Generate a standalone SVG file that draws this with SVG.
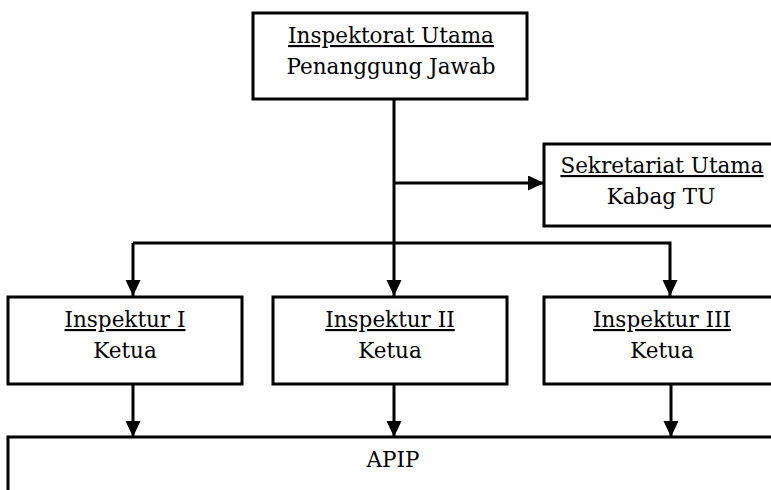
<svg xmlns="http://www.w3.org/2000/svg" width="771" height="490" viewBox="0 0 771 490">
<style>
.box{fill:#fff;stroke:#000;stroke-width:3}
.t{font-family:"DejaVu Serif","Liberation Serif",serif;font-size:21.5px;fill:#000;text-anchor:middle}
.u{text-decoration:underline}
.c{fill:none;stroke:#000;stroke-width:3}
</style>
<defs>
<marker id="ah" markerUnits="userSpaceOnUse" markerWidth="18" markerHeight="18" refX="16" refY="7.5" orient="auto">
<path d="M0,0 L16,7.5 L0,15 z" fill="#000"/>
</marker>
</defs>
<rect width="771" height="490" fill="#fff"/>
<g id="connectors">
<line class="c" x1="394" y1="99" x2="394" y2="296" marker-end="url(#ah)"/>
<line class="c" x1="394" y1="183" x2="544" y2="183" marker-end="url(#ah)"/>
<polyline class="c" points="133,243 670,243 670,296" marker-end="url(#ah)"/>
<line class="c" x1="133" y1="243" x2="133" y2="296" marker-end="url(#ah)"/>
<line class="c" x1="133" y1="384" x2="133" y2="437" marker-end="url(#ah)"/>
<line class="c" x1="394" y1="384" x2="394" y2="437" marker-end="url(#ah)"/>
<line class="c" x1="671" y1="384" x2="671" y2="437" marker-end="url(#ah)"/>
</g>
<g id="inspektorat">
<rect class="box" x="253" y="13" width="274" height="86"/>
<text class="t u" x="391" y="43">Inspektorat Utama</text>
<text class="t" x="391" y="74">Penanggung Jawab</text>
</g>
<g id="sekretariat">
<rect class="box" x="544" y="144" width="240" height="82"/>
<text class="t u" x="662" y="173">Sekretariat Utama</text>
<text class="t" x="661" y="204">Kabag TU</text>
</g>
<g id="inspektur1">
<rect class="box" x="8" y="297" width="234" height="87"/>
<text class="t u" x="125" y="327">Inspektur I</text>
<text class="t" x="125" y="358">Ketua</text>
</g>
<g id="inspektur2">
<rect class="box" x="273" y="297" width="234" height="87"/>
<text class="t u" x="390" y="327">Inspektur II</text>
<text class="t" x="390" y="358">Ketua</text>
</g>
<g id="inspektur3">
<rect class="box" x="544" y="297" width="240" height="87"/>
<text class="t u" x="662" y="327">Inspektur III</text>
<text class="t" x="662" y="358">Ketua</text>
</g>
<g id="apip">
<rect class="box" x="8" y="437" width="780" height="70"/>
<text class="t" x="393" y="467">APIP</text>
</g>
</svg>
